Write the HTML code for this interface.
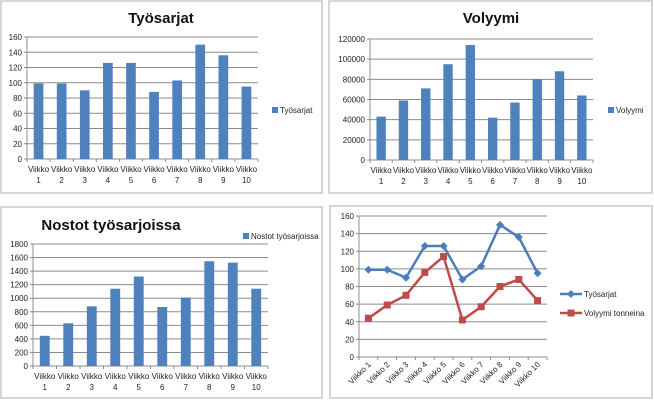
<!DOCTYPE html>
<html><head><meta charset="utf-8"><style>
body{margin:0;background:#fff;width:654px;height:400px;overflow:hidden;font-family:"Liberation Sans",sans-serif}
svg{display:block}
</style></head><body>
<svg id="c" width="654" height="400" xmlns="http://www.w3.org/2000/svg"></svg>
<script>
const categories=["Viikko 1","Viikko 2","Viikko 3","Viikko 4","Viikko 5","Viikko 6","Viikko 7","Viikko 8","Viikko 9","Viikko 10"];
const tyosarjat=[99,99,90,126,126,88,103,150,136,95];
const volyymi=[43000,59000,71000,95000,114000,42000,57000,80000,88000,64000];
const nostot=[445,630,880,1140,1320,870,1010,1545,1525,1140];
const volyymiTonneina=[44,59,70,96,114,42,57,80,88,64];
const ticks160=[0,20,40,60,80,100,120,140,160];
const ticks120k=[0,20000,40000,60000,80000,100000,120000];
const ticks1800=[0,200,400,600,800,1000,1200,1400,1600,1800];

const svg=document.getElementById('c');
const NS='http://www.w3.org/2000/svg';
function mk(tag,a,parent){const e=document.createElementNS(NS,tag);for(const k in a)e.setAttribute(k,a[k]);(parent||svg).appendChild(e);return e;}
function txt(s,a,parent){const e=mk('text',a,parent);e.textContent=s;return e;}

function frame(x,y,w,h,name){
  const g=mk('g',{});
  
  
  const r=mk('rect',{x:x,y:y,width:w,height:h,fill:'#fff',stroke:'#c8c8c8','stroke-width':1.5},g);
  
  
  return g;
}
function axes(g,L,R,T,B,ticks,max,labelRotate){
  const ys=v=>B-(v/max)*(B-T);
  ticks.forEach(t=>{
    const y=ys(t);
    if(t>0){const gl=mk('line',{x1:L,x2:R,y1:y,y2:y,stroke:'#8c8c8c','stroke-width':1},g);
      
      }
    mk('line',{x1:L-3,x2:L,y1:y,y2:y,stroke:'#8c8c8c'},g);
    const tl=txt(String(t),{x:L-5,y:y+3,'font-size':8,fill:'#222','text-anchor':'end'},g);
    
    
  });
  const ya=mk('line',{x1:L,x2:L,y1:T,y2:B,stroke:'#8c8c8c'},g);
  
  
  const xa=mk('line',{x1:L,x2:R,y1:B,y2:B,stroke:'#8c8c8c'},g);
  
  
  const cw=(R-L)/categories.length;
  for(let i=0;i<=categories.length;i++)mk('line',{x1:L+i*cw,x2:L+i*cw,y1:B,y2:B+3,stroke:'#8c8c8c'},g);
  categories.forEach((c,i)=>{
    const cx=L+(i+0.5)*cw;
    if(labelRotate){
      const t=txt(c,{x:cx+3,y:B+8,'font-size':8,fill:'#222','text-anchor':'end',transform:`rotate(-45 ${cx+3} ${B+8})`},g);
      
      
    }else{
      const p=c.split(' ');
      const t1=txt(p[0],{x:cx,y:B+13,'font-size':8,fill:'#222','text-anchor':'middle'},g);
      
      
      const t2=txt(p[1],{x:cx,y:B+24,'font-size':8,fill:'#222','text-anchor':'middle'},g);
      
      
    }
  });
  return ys;
}
function barChart(name,title,tx,ty,L,R,T,B,vals,ticks,max,legendName,lx,ly,fx,fy,fw,fh){
  const g=frame(fx,fy,fw,fh,name);
  const tt=txt(title,{x:tx,y:ty,'font-size':15,'font-weight':'bold',fill:'#111','text-anchor':'middle'},g);
  
  
  const ys=axes(g,L,R,T,B,ticks,max,false);
  const cw=(R-L)/categories.length,bw=cw*0.42;
  vals.forEach((v,i)=>{
    const b=mk('rect',{x:L+(i+0.5)*cw-bw/2,y:ys(v),width:bw,height:B-ys(v),fill:'#4f81bd'},g);
    
    
  });
  const lg=mk('g',{},g);
  
  
  mk('rect',{x:lx,y:ly-6,width:6,height:6,fill:'#4f81bd'},lg);
  txt(legendName,{x:lx+8,y:ly,'font-size':8,fill:'#222'},lg);
}
barChart('tyosarjat-chart','Työsarjat',161,23,27,258,37,159,tyosarjat,ticks160,160,'Työsarjat',272,113,1,1,321,192);
barChart('volyymi-chart','Volyymi',491,23,370,593,39,160,volyymi,ticks120k,120000,'Volyymi',608,113,329,1,323,192);
barChart('nostot-chart','Nostot työsarjoissa',111,230,33,268,244,366,nostot,ticks1800,1800,'Nostot työsarjoissa',243,239,1,207,321,191);

// line chart
(function(){
  const g=frame(330,206,322,192,'line-chart');
  const L=359,R=547,T=216,B=357;
  const ys=axes(g,L,R,T,B,ticks160,160,true);
  const cw=(R-L)/categories.length;
  function series(vals,color,name,square){
    const pts=vals.map((v,i)=>[L+(i+0.5)*cw,ys(v)]);
    const pl=mk('polyline',{points:pts.map(p=>p.join(',')).join(' '),fill:'none',stroke:color,'stroke-width':2.5},g);
    
    
    pts.forEach((p,i)=>{
      let m;
      if(square)m=mk('rect',{x:p[0]-3.5,y:p[1]-3.5,width:7,height:7,fill:color},g);
      else m=mk('polygon',{points:`${p[0]},${p[1]-4} ${p[0]+4},${p[1]} ${p[0]},${p[1]+4} ${p[0]-4},${p[1]}`,fill:color},g);
      
      
    });
  }
  series(tyosarjat,'#4a7ebb','tyosarjat',false);
  series(volyymiTonneina,'#be4b48','volyymi-tonneina',true);
  const l1=mk('g',{},g);
  
  
  mk('line',{x1:560,x2:582,y1:294,y2:294,stroke:'#4a7ebb','stroke-width':2.5},l1);
  mk('polygon',{points:'571,290 575,294 571,298 567,294',fill:'#4a7ebb'},l1);
  txt('Työsarjat',{x:584,y:297,'font-size':8,fill:'#222'},l1);
  const l2=mk('g',{},g);
  
  
  mk('line',{x1:560,x2:582,y1:313,y2:313,stroke:'#be4b48','stroke-width':2.5},l2);
  mk('rect',{x:567.5,y:309.5,width:7,height:7,fill:'#be4b48'},l2);
  txt('Volyymi tonneina',{x:584,y:316,'font-size':8,fill:'#222'},l2);
})();
</script>
</body></html>
